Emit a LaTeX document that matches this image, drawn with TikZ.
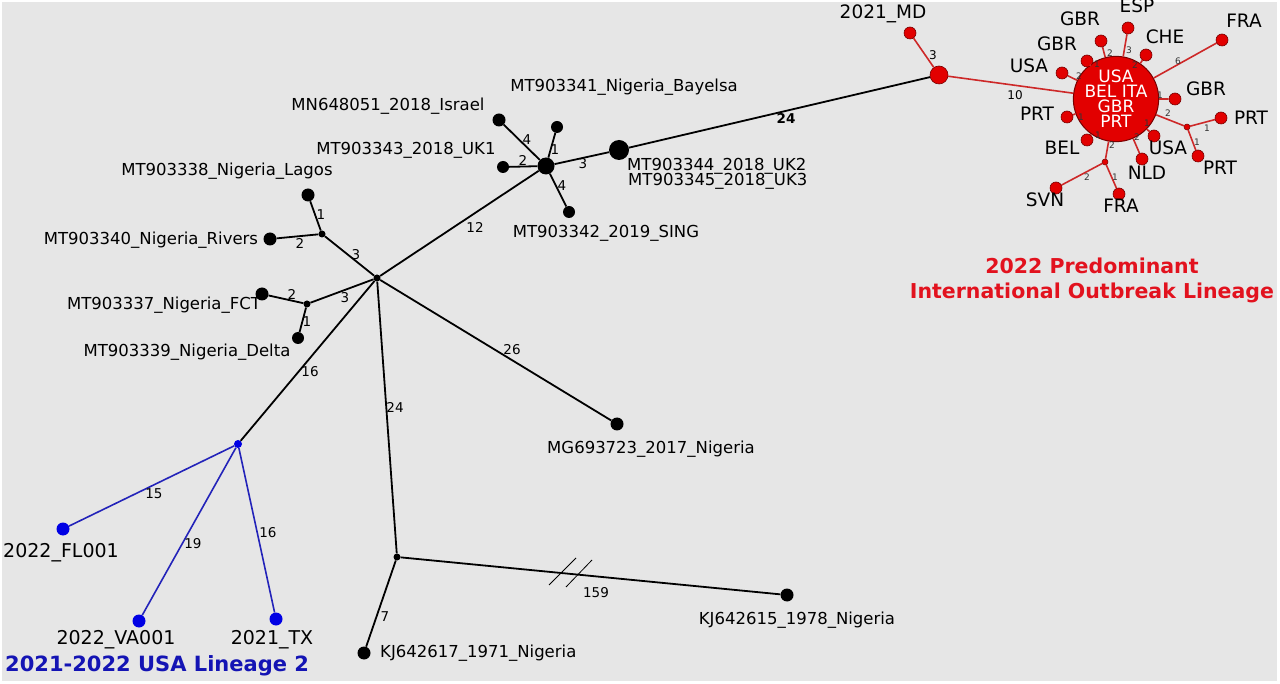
\documentclass[tikz,border=0pt]{standalone}
\usepackage{fontspec}
\setmainfont{DejaVu Sans}

\definecolor{bggray}{RGB}{230,230,230}
\definecolor{nodered}{RGB}{226,0,0}
\definecolor{edgered}{RGB}{205,40,40}
\definecolor{rimred}{RGB}{120,0,0}
\definecolor{titlered}{RGB}{226,18,30}
\definecolor{nodeblue}{RGB}{0,0,228}
\definecolor{edgeblue}{RGB}{35,35,185}
\definecolor{titleblue}{RGB}{20,20,180}

\tikzset{
  seq/.style={circle, fill=black, inner sep=0pt, minimum size=13pt},
  mv/.style={circle, fill=black, inner sep=0pt, minimum size=7pt},
  rseq/.style={circle, fill=nodered, draw=rimred, line width=0.6pt, inner sep=0pt, minimum size=12pt},
  rmv/.style={circle, fill=nodered, draw=rimred, line width=0.5pt, inner sep=0pt, minimum size=6pt},
  bseq/.style={circle, fill=nodeblue, inner sep=0pt, minimum size=13pt},
  seqname/.style={font=\fontsize{16.5}{18}\selectfont, inner sep=0pt, text height=0.75em, text depth=0.25em},
  ctry/.style={font=\fontsize{18.5}{20}\selectfont, inner sep=0pt, text height=0.75em, text depth=0.2em},
  usaname/.style={font=\fontsize{19}{20}\selectfont, inner sep=0pt, text height=0.75em, text depth=0.25em},
  snp/.style={font=\fontsize{13.5}{14}\selectfont, inner sep=0pt},
  rsnp/.style={font=\fontsize{9}{10}\selectfont, inner sep=0pt, text=black!80},
  link/.style={line width=1.8pt},
  rlink/.style={line width=1.6pt, draw=edgered},
  blink/.style={line width=1.6pt, draw=edgeblue},
}

\begin{document}
\begin{tikzpicture}[x=1pt,y=-1pt]
\useasboundingbox (0,0) rectangle (1280,684);
%Background
\fill[white] (0,0) rectangle (1280,684);
\fill[bggray] (2,2) rectangle (1277,681);

%Shape: Nigeria nodes
\node[mv] (c0) at (377,278) {};
\node[mv] (jL) at (322,234) {};
\node[seq] (lagos) at (308,195) {};
\node[seq] (rivers) at (270,239) {};
\node[mv] (jF) at (307,304) {};
\node[seq] (fct) at (262,294) {};
\node[seq, minimum size=12pt] (delta) at (298,338) {};
\node[seq, minimum size=17pt] (hub) at (546,166) {};
\node[seq, minimum size=12pt] (bay) at (557,127) {};
\node[seq] (isr) at (499,120) {};
\node[seq, minimum size=12pt] (uk1) at (503,167) {};
\node[seq, minimum size=12pt] (sing) at (569,212) {};
\node[seq, minimum size=20pt] (uk2) at (619,150) {};
\node[seq] (mg) at (617,424) {};
\node[mv] (jB) at (397,557) {};
\node[seq] (kj15) at (787,595) {};
\node[seq] (kj17) at (364,653) {};

%Shape: USA lineage 2 nodes
\node[circle, fill=nodeblue, inner sep=0pt, minimum size=8pt] (jU) at (238,444) {};
\node[bseq] (fl) at (63,529) {};
\node[bseq] (va) at (139,621) {};
\node[bseq] (tx) at (276,619) {};

%Shape: outbreak nodes
\node[rseq, minimum size=18pt] (mdhub) at (939,75) {};
\node[rseq] (md) at (910,33) {};
\node[rseq, minimum size=70pt, line width=1pt, text=white, align=center,
  font=\fontsize{17}{15}\selectfont] (big) at (1116,99) {USA\\BEL ITA\\GBR\\PRT};
\node[rseq] (usaL) at (1062,73) {};
\node[rseq] (gbrA) at (1087,61) {};
\node[rseq] (gbrB) at (1101,41) {};
\node[rseq] (esp) at (1128,28) {};
\node[rseq] (che) at (1146,55) {};
\node[rseq] (fraA) at (1222,40) {};
\node[rseq] (gbrR) at (1175,99) {};
\node[rmv] (jR) at (1187,127) {};
\node[rseq] (prtA) at (1221,118) {};
\node[rseq] (prtB) at (1198,156) {};
\node[rseq] (usaR) at (1154,136) {};
\node[rseq] (nld) at (1142,159) {};
\node[rmv] (jS) at (1105,162) {};
\node[rseq] (svn) at (1056,188) {};
\node[rseq] (fraB) at (1119,194) {};
\node[rseq] (bel) at (1087,140) {};
\node[rseq] (prtL) at (1067,117) {};

%Straight Lines
\draw[link] (c0) -- (jL) (jL) -- (lagos) (jL) -- (rivers);
\draw[link] (c0) -- (jF) (jF) -- (fct) (jF) -- (delta);
\draw[link] (c0) -- (hub) (hub) -- (isr) (hub) -- (bay) (hub) -- (uk1) (hub) -- (sing) (hub) -- (uk2);
\draw[link] (uk2) -- (mdhub);
\draw[link] (c0) -- (mg) (c0) -- (jB) (jB) -- (kj15) (jB) -- (kj17);
\draw[link] (c0) -- (jU);
\draw[blink] (jU) -- (fl) (jU) -- (va) (jU) -- (tx);
\draw[rlink] (mdhub) -- (md) (mdhub) -- (big);
\draw[rlink] (big) -- (usaL) (big) -- (gbrA) (big) -- (gbrB) (big) -- (esp) (big) -- (che) (big) -- (fraA);
\draw[rlink] (big) -- (gbrR) (big) -- (jR) (jR) -- (prtA) (jR) -- (prtB) (big) -- (usaR) (big) -- (nld);
\draw[rlink] (big) -- (jS) (jS) -- (svn) (jS) -- (fraB) (big) -- (bel) (big) -- (prtL);
%break marks
\draw[line width=0.8pt] (549,585) -- (576,558) (566,587) -- (592,560);

% Text Node
\node[seqname] (tbay) at (624,89) {MT903341\_Nigeria\_Bayelsa};
\node[seqname] (tisr) at (388,108) {MN648051\_2018\_Israel};
\node[seqname] (tuk1) at (406,152) {MT903343\_2018\_UK1};
\node[seqname, anchor=west] (tuk2) at (627,168) {MT903344\_2018\_UK2};
\node[seqname, anchor=west] (tuk3) at (628,183) {MT903345\_2018\_UK3};
\node[seqname] (tsing) at (606,235) {MT903342\_2019\_SING};
\node[seqname] (tlagos) at (227,173) {MT903338\_Nigeria\_Lagos};
\node[seqname] (trivers) at (151,242) {MT903340\_Nigeria\_Rivers};
\node[seqname] (tfct) at (164,307) {MT903337\_Nigeria\_FCT};
\node[seqname] (tdelta) at (187,354) {MT903339\_Nigeria\_Delta};
\node[seqname] (tmg) at (651,451) {MG693723\_2017\_Nigeria};
\node[seqname] (tkj15) at (797,622) {KJ642615\_1978\_Nigeria};
\node[seqname, anchor=west] (tkj17) at (380,655) {KJ642617\_1971\_Nigeria};
\node[usaname] (tfl) at (61,555) {2022\_FL001};
\node[usaname] (tva) at (116,642) {2022\_VA001};
\node[usaname] (ttx) at (272,642) {2021\_TX};
\node[ctry] (tmd) at (883,16) {2021\_MD};
\node[ctry] (tusaL) at (1029,70) {USA};
\node[ctry] (tgbrA) at (1057,48) {GBR};
\node[ctry] (tgbrB) at (1080,23) {GBR};
\node[ctry] (tesp) at (1137,10) {ESP};
\node[ctry] (tche) at (1165,41) {CHE};
\node[ctry] (tfraA) at (1244,25) {FRA};
\node[ctry] (tgbrR) at (1206,93) {GBR};
\node[ctry] (tprtA) at (1251,122) {PRT};
\node[ctry] (tprtB) at (1220,172) {PRT};
\node[ctry] (tusaR) at (1168,152) {USA};
\node[ctry] (tnld) at (1147,177) {NLD};
\node[ctry] (tfraB) at (1121,210) {FRA};
\node[ctry] (tsvn) at (1045,204) {SVN};
\node[ctry] (tbel) at (1062,152) {BEL};
\node[ctry] (tprtL) at (1037,118) {PRT};

% Text Node: mutation counts
\node[snp] (s1) at (786,118) {\textbf{24}};
\node[snp] (s2) at (583,164) {3};
\node[snp] (s3) at (527,140) {4};
\node[snp] (s4) at (555,150) {1};
\node[snp] (s5) at (523,160) {2};
\node[snp] (s6) at (562,186) {4};
\node[snp] (s7) at (475,227) {12};
\node[snp] (s8) at (321,215) {1};
\node[snp] (s9) at (300,243) {2};
\node[snp] (s10) at (356,255) {3};
\node[snp] (s11) at (292,294) {2};
\node[snp] (s12) at (307,322) {1};
\node[snp] (s13) at (345,298) {3};
\node[snp] (s14) at (310,372) {16};
\node[snp] (s15) at (512,350) {26};
\node[snp] (s16) at (395,407) {24};
\node[snp] (s17) at (596,593) {159};
\node[snp] (s18) at (385,617) {7};
\node[snp] (s19) at (154,494) {15};
\node[snp] (s20) at (193,544) {19};
\node[snp] (s21) at (268,533) {16};
\node[snp, font=\fontsize{12}{13}\selectfont] (s22) at (933,55) {3};
\node[snp, font=\fontsize{12}{13}\selectfont] (s23) at (1015,95) {10};
\node[rsnp] (r1) at (1079,76) {2};
\node[rsnp] (r2) at (1097,64) {1};
\node[rsnp] (r3) at (1110,53) {2};
\node[rsnp] (r4) at (1129,50) {3};
\node[rsnp] (r5) at (1135,65) {2};
\node[rsnp] (r6) at (1178,61) {6};
\node[rsnp] (r7) at (1160,95) {1};
\node[rsnp] (r8) at (1168,113) {2};
\node[rsnp] (r9) at (1207,128) {1};
\node[rsnp] (r10) at (1197,142) {1};
\node[rsnp] (r11) at (1147,123) {1};
\node[rsnp] (r12) at (1137,137) {2};
\node[rsnp] (r13) at (1112,145) {2};
\node[rsnp] (r14) at (1087,177) {2};
\node[rsnp] (r15) at (1115,177) {1};
\node[rsnp] (r16) at (1098,135) {1};
\node[rsnp] (r17) at (1081,117) {1};

% Text Node: lineage titles
\node[font=\bfseries\fontsize{20.5}{25}\selectfont, text=titlered, align=center, inner sep=0pt] (tred) at (1092,280) {2022 Predominant\\International Outbreak Lineage};
\node[font=\bfseries\fontsize{21}{22}\selectfont, text=titleblue, anchor=west, inner sep=0pt] (tblue) at (5,666) {2021-2022 USA Lineage 2};

\end{tikzpicture}
\end{document}
